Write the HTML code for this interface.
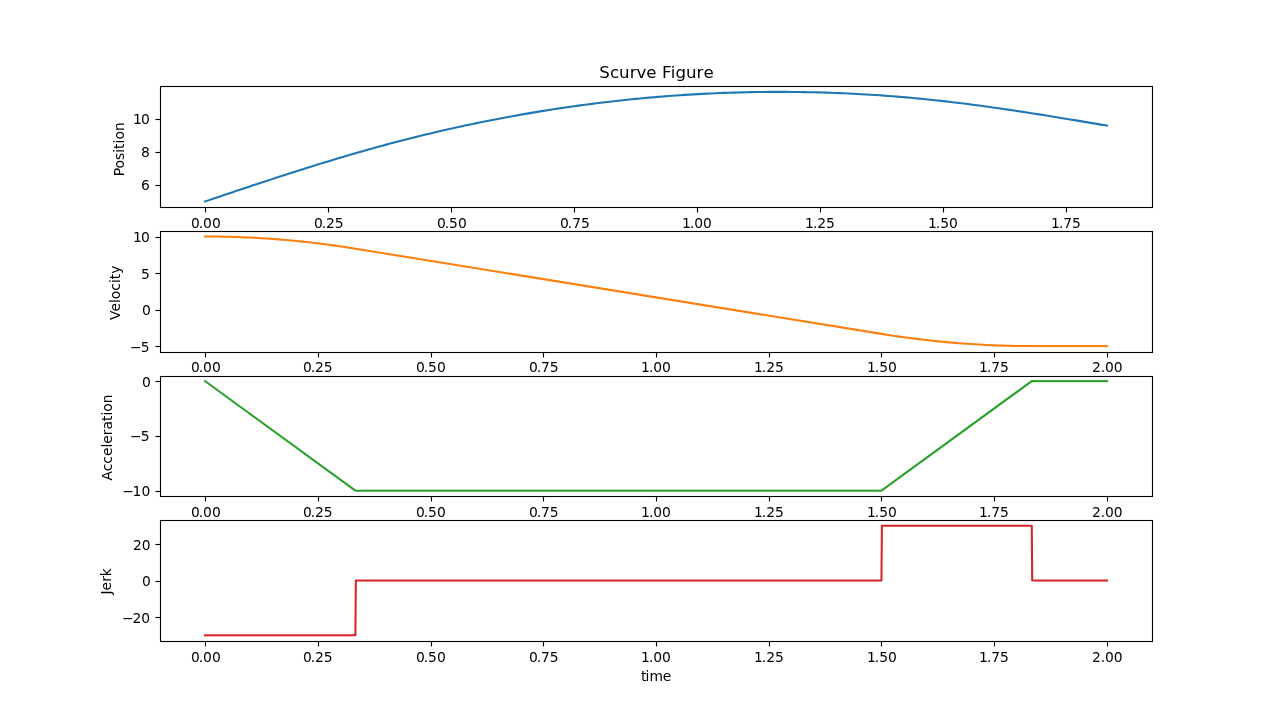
<!DOCTYPE html>
<html lang="en">
<head>
<meta charset="utf-8">
<title>Scurve Figure</title>
<style>
html,body{margin:0;padding:0;background:#fff;width:1280px;height:720px;overflow:hidden}
svg{display:block;position:absolute;left:0;top:0}
text{font-kerning:normal;white-space:pre}
</style>
</head>
<body>
<svg width="1280" height="720" viewBox="0 0 1280 720">
<rect width="1280" height="720" fill="#fff"/>
<path d="M204.1 201.78L209.03 200.12L212.97 198.79L216.91 197.47L220.85 196.14L224.79 194.82L228.73 193.5L232.66 192.18L236.6 190.86L240.54 189.55L244.48 188.23L248.42 186.92L252.36 185.61L256.3 184.31L260.24 183.01L264.18 181.71L268.12 180.41L272.06 179.12L276 177.84L279.93 176.55L283.87 175.28L287.81 174.01L291.75 172.74L295.69 171.48L299.63 170.22L303.57 168.97L307.51 167.73L311.45 166.5L315.39 165.27L319.33 164.05L323.27 162.83L327.2 161.63L331.14 160.43L335.08 159.24L339.02 158.05L342.96 156.88L346.9 155.72L350.84 154.56L354.78 153.41L358.72 152.28L362.66 151.15L366.6 150.03L370.53 148.93L374.47 147.84L378.4 146.75L382.34 145.68L386.27 144.62L390.2 143.57L394.14 142.53L398.07 141.5L402.01 140.48L405.94 139.47L409.87 138.47L413.81 137.48L417.74 136.5L421.68 135.54L425.61 134.58L429.54 133.64L433.48 132.7L437.41 131.78L441.35 130.86L445.28 129.96L449.21 129.07L453.15 128.18L457.08 127.31L461.02 126.45L464.95 125.6L468.89 124.76L472.82 123.93L476.75 123.11L480.69 122.31L484.62 121.51L488.56 120.72L492.49 119.95L496.42 119.18L500.36 118.43L504.29 117.68L508.23 116.95L512.16 116.22L516.59 115.42L521.01 114.64L525.44 113.86L529.86 113.1L534.29 112.35L538.72 111.62L543.14 110.9L547.57 110.19L551.99 109.5L556.42 108.82L560.84 108.15L565.27 107.5L569.7 106.86L574.12 106.23L578.55 105.62L582.97 105.02L587.4 104.43L591.83 103.86L596.25 103.3L600.68 102.75L605.1 102.22L609.53 101.7L613.95 101.19L618.38 100.7L622.81 100.22L627.23 99.75L631.66 99.3L636.08 98.86L640.51 98.44L644.94 98.02L649.36 97.62L653.79 97.24L658.21 96.87L662.64 96.51L667.06 96.16L671.49 95.83L675.92 95.51L680.34 95.21L684.77 94.91L689.19 94.63L693.62 94.37L698.05 94.12L702.47 93.88L706.9 93.65L711.32 93.44L715.75 93.25L720.17 93.06L724.6 92.89L729.03 92.73L733.45 92.59L737.88 92.46L742.3 92.34L746.73 92.23L751.16 92.14L755.58 92.07L760.01 92L764.43 91.95L768.86 91.91L773.28 91.89L777.71 91.88L782.14 91.88L786.56 91.9L790.99 91.93L795.41 91.97L799.84 92.03L804.27 92.1L808.69 92.18L813.12 92.28L817.54 92.39L821.97 92.51L826.39 92.65L830.82 92.8L835.25 92.96L839.67 93.14L844.1 93.33L848.52 93.53L852.95 93.75L857.38 93.98L861.8 94.22L866.23 94.48L870.65 94.75L875.08 95.04L879.51 95.33L883.93 95.65L888.36 95.97L892.78 96.31L897.21 96.66L901.63 97.02L906.06 97.4L910.49 97.79L914.91 98.2L919.34 98.62L923.76 99.05L928.19 99.49L932.62 99.95L937.04 100.42L941.47 100.91L945.9 101.41L950.33 101.92L954.76 102.44L959.19 102.98L963.62 103.53L968.05 104.09L972.49 104.67L976.92 105.25L981.35 105.84L985.78 106.45L990.21 107.06L994.64 107.69L999.07 108.32L1003.51 108.96L1007.94 109.62L1012.37 110.27L1016.8 110.94L1021.23 111.62L1025.66 112.3L1030.1 112.98L1034.53 113.68L1038.96 114.38L1043.39 115.08L1047.82 115.79L1052.25 116.51L1056.68 117.23L1061.12 117.95L1065.55 118.68L1069.98 119.41L1074.41 120.15L1078.84 120.88L1083.27 121.62L1087.71 122.37L1092.14 123.11L1096.57 123.85L1101 124.6L1105.43 125.34L1107.94 125.76" fill="none" stroke="#1f77b4" stroke-width="2.0833" stroke-linejoin="round"/>
<path d="M204.05 236.5L209.15 236.51L213.22 236.54L217.28 236.58L221.34 236.65L225.4 236.73L229.46 236.82L233.53 236.94L237.59 237.07L241.65 237.22L245.71 237.39L249.78 237.58L253.84 237.78L257.9 238.01L261.96 238.25L266.02 238.51L270.09 238.78L274.15 239.07L278.21 239.39L282.27 239.71L286.34 240.06L290.4 240.43L294.46 240.81L298.52 241.21L302.58 241.63L306.65 242.06L310.71 242.52L314.77 242.99L318.83 243.48L322.9 243.98L326.96 244.51L331.02 245.05L335.08 245.61L339.14 246.19L343.21 246.78L347.27 247.4L351.33 248.03L355.39 248.68L881.45 333.9L885.52 334.54L889.58 335.18L893.64 335.79L897.7 336.39L901.77 336.96L905.83 337.52L909.89 338.07L913.95 338.59L918.01 339.1L922.08 339.59L926.14 340.06L930.2 340.51L934.26 340.95L938.33 341.37L942.39 341.77L946.45 342.15L950.51 342.51L954.57 342.86L958.64 343.19L962.7 343.5L966.76 343.79L970.82 344.07L974.89 344.33L978.95 344.57L983.01 344.79L987.07 344.99L991.14 345.18L995.2 345.35L999.26 345.5L1003.32 345.63L1007.38 345.75L1011.45 345.85L1015.51 345.93L1019.57 345.99L1023.63 346.03L1027.7 346.06L1031.76 346.07L1035 346.07" fill="none" stroke="#ff7f0e" stroke-width="2.0833" stroke-linejoin="round"/>
<path d="M1035 347H1107.95v1H1035z" fill="#ff7f0e" fill-opacity="0.111"/>
<path d="M1035 345H1107.95v1H1035z" fill="#ff7f0e" fill-opacity="0.972"/>
<path d="M1035 346H1107.95v1H1035z" fill="#ff7f0e"/>
<path d="M204.25 380.52L355.39 490.7L359 490.7M878 490.7L881.45 490.7L1031.76 381.13L1035 381.13" fill="none" stroke="#2ca02c" stroke-width="2.0833" stroke-linejoin="round"/>
<path d="M1035 382H1107.95v1H1035z" fill="#2ca02c" fill-opacity="0.172"/>
<path d="M359 489H878v1H359z" fill="#2ca02c" fill-opacity="0.346"/>
<path d="M359 491H878v1H359z" fill="#2ca02c" fill-opacity="0.737"/>
<path d="M1035 380H1107.95v1H1035z" fill="#2ca02c" fill-opacity="0.911"/>
<path d="M359 490H878v1H359zM1035 381H1107.95v1H1035z" fill="#2ca02c"/>
<path d="M352 635.32L355.39 635.32L355.84 580.54L359 580.54M878 580.54L881.45 580.54L881.91 525.76L885 525.76M1028 525.76L1031.76 525.76L1032.21 580.54L1036 580.54" fill="none" stroke="#d62728" stroke-width="2.0833" stroke-linejoin="round"/>
<path d="M885 524H1028v1H885z" fill="#d62728" fill-opacity="0.285"/>
<path d="M204.05 636H352v1H204.05z" fill="#d62728" fill-opacity="0.363"/>
<path d="M359 579H878v1H359zM1036 579H1107.95v1H1036z" fill="#d62728" fill-opacity="0.503"/>
<path d="M359 581H878v1H359zM1036 581H1107.95v1H1036z" fill="#d62728" fill-opacity="0.581"/>
<path d="M204.05 634H352v1H204.05z" fill="#d62728" fill-opacity="0.72"/>
<path d="M885 526H1028v1H885z" fill="#d62728" fill-opacity="0.798"/>
<path d="M204.05 635H352v1H204.05zM359 580H878v1H359zM885 525H1028v1H885zM1036 580H1107.95v1H1036z" fill="#d62728"/>
<path d="M160.5 184h-5v3h5zM160.5 151h-5v3h5zM160.5 118h-5v3h5zM160 85H1153v3H160zM160 206H1153v3H160zM160.5 345h-5v3h5zM160.5 309h-5v3h5zM160.5 272h-5v3h5zM160.5 236h-5v3h5zM160 230H1153v3H160zM160 351H1153v3H160zM160.5 490h-5v3h5zM160.5 435h-5v3h5zM160.5 380h-5v3h5zM160 375H1153v3H160zM160 495H1153v3H160zM160.5 616h-5v3h5zM160.5 580h-5v3h5zM160.5 543h-5v3h5zM160 519H1153v3H160zM160 640H1153v3H160z" fill="#000" fill-opacity="0.0556"/>
<path d="M160.5 86.5V207.5M1152.5 86.5V207.5M160.5 231.5V352.5M1152.5 231.5V352.5M160.5 376.5V496.5M1152.5 376.5V496.5M160.5 520.5V641.5M1152.5 520.5V641.5" fill="none" stroke="#000" stroke-width="1.1111" stroke-linecap="square"/>
<path d="M205.5 207.5v5M328.5 207.5v5M451.5 207.5v5M574.5 207.5v5M697.5 207.5v5M820.5 207.5v5M943.5 207.5v5M1066.5 207.5v5M205.5 352.5v5M318.5 352.5v5M431.5 352.5v5M543.5 352.5v5M656.5 352.5v5M769.5 352.5v5M881.5 352.5v5M994.5 352.5v5M1107.5 352.5v5M205.5 496.5v5M318.5 496.5v5M431.5 496.5v5M543.5 496.5v5M656.5 496.5v5M769.5 496.5v5M881.5 496.5v5M994.5 496.5v5M1107.5 496.5v5M205.5 641.5v5M318.5 641.5v5M431.5 641.5v5M543.5 641.5v5M656.5 641.5v5M769.5 641.5v5M881.5 641.5v5M994.5 641.5v5M1107.5 641.5v5" fill="none" stroke="#000" stroke-width="1.1111"/>
<path d="M160.5 86.5H1152.5M160.5 207.5H1152.5M160.5 231.5H1152.5M160.5 352.5H1152.5M160.5 376.5H1152.5M160.5 496.5H1152.5M160.5 520.5H1152.5M160.5 641.5H1152.5" fill="none" stroke="#000" stroke-width="1" stroke-linecap="square"/>
<path d="M160.5 185.5h-5M160.5 152.5h-5M160.5 119.5h-5M160.5 346.5h-5M160.5 310.5h-5M160.5 273.5h-5M160.5 237.5h-5M160.5 491.5h-5M160.5 436.5h-5M160.5 381.5h-5M160.5 617.5h-5M160.5 581.5h-5M160.5 544.5h-5" fill="none" stroke="#000" stroke-width="1"/>
<g font-family="'DejaVu Sans','Liberation Sans',sans-serif" font-size="13.889" fill="#000">
<text x="191.06 198.75 203.02 211.91" y="228">0.00</text>
<text x="313.95 321.82 326.07 334.79" y="228">0.25</text>
<text x="437.04 444.78 449.06 457.88" y="228">0.50</text>
<text x="560.06 567.8 572.16 580.95" y="228">0.75</text>
<text x="681.95 689.91 694.25 703.08" y="228">1.00</text>
<text x="805.06 812.94 817.2 826.06" y="228">1.25</text>
<text x="928.11 935.82 940.26 949.07" y="228">1.50</text>
<text x="1051.07 1058.95 1063.29 1072.07" y="228">1.75</text>
<text x="140.9" y="190">6</text>
<text x="141.1" y="157">8</text>
<text x="133.07 140.89" y="124">10</text>
<text transform="translate(124 149.32) rotate(-90)" text-anchor="middle">Position</text>
<text x="191.06 198.75 203.02 211.91" y="372">0.00</text>
<text x="303.03 310.72 314.95 323.86" y="372">0.25</text>
<text x="416.05 423.79 428.07 436.89" y="372">0.50</text>
<text x="529.03 536.72 541.08 549.86" y="372">0.75</text>
<text x="640.95 648.91 653.25 662.08" y="372">1.00</text>
<text x="753.93 761.81 766.36 774.93" y="372">1.25</text>
<text x="867.1 874.81 879.25 888.06" y="372">1.50</text>
<text x="979.02 986.9 991.24 1000.02" y="372">1.75</text>
<text x="1092.08 1100.71 1104.98 1113.87" y="372">2.00</text>
<text x="130.04 140.68" y="352">−5</text>
<text x="141.98" y="315">0</text>
<text x="141.09" y="279">5</text>
<text x="133.07 140.89" y="242">10</text>
<text transform="translate(120 292.75) rotate(-90)" text-anchor="middle">Velocity</text>
<text x="191.06 198.75 203.02 211.91" y="517">0.00</text>
<text x="303.03 310.72 314.95 323.86" y="517">0.25</text>
<text x="416.05 423.79 428.07 436.89" y="517">0.50</text>
<text x="529.03 536.72 541.08 549.86" y="517">0.75</text>
<text x="640.95 648.91 653.25 662.08" y="517">1.00</text>
<text x="753.93 761.81 766.36 774.93" y="517">1.25</text>
<text x="867.1 874.81 879.25 888.06" y="517">1.50</text>
<text x="979.02 986.9 991.24 1000.02" y="517">1.75</text>
<text x="1092.08 1100.71 1104.98 1113.87" y="517">2.00</text>
<text x="122.14 132.58 141.49" y="496">−10</text>
<text x="130.04 140.68" y="441">−5</text>
<text x="141.98" y="387">0</text>
<text transform="translate(112 437.5) rotate(-90)" text-anchor="middle">Acceleration</text>
<text x="191.06 198.75 203.02 211.91" y="662">0.00</text>
<text x="303.03 310.72 314.95 323.86" y="662">0.25</text>
<text x="416.05 423.79 428.07 436.89" y="662">0.50</text>
<text x="529.03 536.72 541.08 549.86" y="662">0.75</text>
<text x="640.95 648.91 653.25 662.08" y="662">1.00</text>
<text x="753.93 761.81 766.36 774.93" y="662">1.25</text>
<text x="867.1 874.81 879.25 888.06" y="662">1.50</text>
<text x="979.02 986.9 991.24 1000.02" y="662">1.75</text>
<text x="1092.08 1100.71 1104.98 1113.87" y="662">2.00</text>
<text x="122.05 132.57 141.35" y="623">−20</text>
<text x="141.98" y="586">0</text>
<text x="133.04 141.86" y="550">20</text>
<text transform="translate(111 581.31) rotate(-90)" text-anchor="middle">Jerk</text>
<text x="599.33" y="78" font-size="16.667" style="font-kerning:none" dx="0 0 0 0 0 0 0 0 -0.65">Scurve Figure</text>
<text x="640.99 645.5 649.39 662.85" y="681">time</text>
</g>
</svg>
</body>
</html>
